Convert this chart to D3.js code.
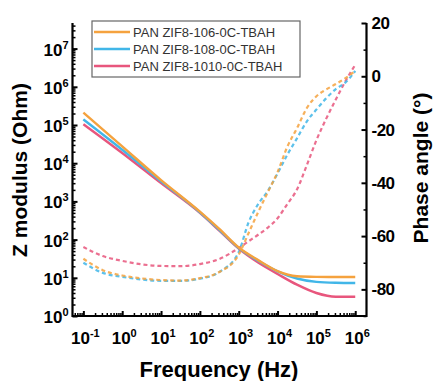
<!DOCTYPE html>
<html>
<head>
<meta charset="utf-8">
<script src="https://cdn.jsdelivr.net/npm/d3@7"></script>
<style>
  html, body { margin: 0; padding: 0; background: #fff; }
  svg { display: block; font-family: "Liberation Sans", Arial, sans-serif; }
</style>
</head>
<body>
<svg id="chart" width="437" height="381"></svg>
<script>
// Series names
const seriesNames = ["PAN ZIF8-106-0C-TBAH", "PAN ZIF8-108-0C-TBAH", "PAN ZIF8-1010-0C-TBAH"];
const seriesColors = ["#F5A23E", "#41B6E8", "#E8567D"];

// Impedance modulus |Z| (Ohm) vs frequency (Hz)
const zFreq = [0.1, 1, 10, 100, 316, 1000, 3162, 10000, 31623, 100000, 316228, 1000000];
const zOrange = [2.1e5, 2.75e4, 3.6e3, 540, 190, 62, 29, 15, 11, 10.6, 10.5, 10.5];
const zBlue   = [1.4e5, 2.25e4, 3.35e3, 520, 180, 60, 28, 14.8, 9.6, 7.8, 7.4, 7.3];
const zRed    = [1.05e5, 1.85e4, 3.0e3, 500, 172, 58, 25, 12.6, 6.6, 4.0, 3.2, 3.2];

// Phase angle (degrees) vs frequency (Hz)
const pFreq = [0.1, 0.316, 1, 3.16, 10, 31.6, 100, 316, 1000, 1778, 3162, 5623, 10000,
               17783, 31623, 56234, 100000, 177828, 316228, 562341, 1000000];
const pOrange = [-68.5, -72.8, -74.8, -75.9, -76.5, -76.7, -75.8, -73.5, -67, -59, -51, -43.5, -36,
                 -26.5, -19.5, -12, -7.5, -5, -2.9, -0.7, 2];
const pBlue   = [-70, -73.8, -75.3, -76.3, -76.8, -76.8, -76, -73.5, -66, -55, -48, -43, -36.5,
                 -29.5, -23.3, -17, -12.5, -8.3, -4.8, -2.3, 2];
const pRed    = [-64.1, -67.5, -69.3, -70.6, -71.2, -71.3, -70.5, -68.6, -64.5, -62, -59.5, -56.8, -53.3,
                 -48, -42.5, -33.5, -24, -16, -8.7, -1.8, 4.3];

// Axis ticks
const xTickExp = [-1, 0, 1, 2, 3, 4, 5, 6];
const yTickExp = [0, 1, 2, 3, 4, 5, 6, 7];
const phaseTicks = [20, 0, -20, -40, -60, -80];

const svg = d3.select("#chart");
const plotLeft = 72.5, plotRight = 366.5, plotTop = 23, plotBottom = 316;

const x = d3.scaleLog().domain([Math.pow(10, -1.28), Math.pow(10, 6.29)]).range([plotLeft, plotRight]);
const yZ = d3.scaleLog().domain([1, Math.pow(10, 7.67)]).range([plotBottom, plotTop]);
const yP = d3.scaleLinear().domain([-90, 20]).range([plotBottom, plotTop]);

const zSeries = [zOrange, zBlue, zRed];
const pSeries = [pOrange, pBlue, pRed];

// Phase curves (dashed)
const phaseLine = d3.line().x(d => x(d[0])).y(d => yP(d[1])).curve(d3.curveMonotoneX);
[2, 1, 0].forEach(i => {
  svg.append("path")
    .datum(pFreq.map((f, k) => [f, pSeries[i][k]]))
    .attr("d", phaseLine)
    .attr("fill", "none")
    .attr("stroke", seriesColors[i])
    .attr("stroke-width", 2.2)
    .attr("stroke-dasharray", "4,3")
    .attr("opacity", 0.85);
});

// Modulus curves (solid)
const zLine = d3.line().x(d => x(d[0])).y(d => yZ(d[1])).curve(d3.curveMonotoneX);
[2, 1, 0].forEach(i => {
  svg.append("path")
    .datum(zFreq.map((f, k) => [f, zSeries[i][k]]))
    .attr("d", zLine)
    .attr("fill", "none")
    .attr("stroke", seriesColors[i])
    .attr("stroke-width", 2.4);
});

// Minor tick values for log axes
function minorLogTicks(lo, hi) {
  const out = [];
  for (let e = lo; e <= hi; e++) for (let m = 2; m <= 9; m++) out.push(m * Math.pow(10, e));
  return out;
}

// Bottom axis (ticks point inward)
const xMinor = minorLogTicks(-2, 6).filter(v => v >= x.domain()[0] && v <= x.domain()[1]);
svg.append("g").attr("transform", `translate(0,${plotBottom})`)
  .call(d3.axisBottom(x).tickValues(xMinor).tickSize(-3).tickFormat(""))
  .call(g => g.select(".domain").remove())
  .selectAll("line").attr("stroke-width", 1.5);
svg.append("g").attr("transform", `translate(0,${plotBottom})`)
  .call(d3.axisBottom(x).tickValues(xTickExp.map(e => Math.pow(10, e))).tickSize(-5).tickFormat(""))
  .call(g => g.select(".domain").remove())
  .selectAll("line").attr("stroke-width", 2);

// Left axis
const yMinor = minorLogTicks(0, 7).filter(v => v <= yZ.domain()[1]);
svg.append("g").attr("transform", `translate(${plotLeft},0)`)
  .call(d3.axisLeft(yZ).tickValues(yMinor).tickSize(-3).tickFormat(""))
  .call(g => g.select(".domain").remove())
  .selectAll("line").attr("stroke-width", 1.5);
svg.append("g").attr("transform", `translate(${plotLeft},0)`)
  .call(d3.axisLeft(yZ).tickValues(yTickExp.map(e => Math.pow(10, e))).tickSize(-5).tickFormat(""))
  .call(g => g.select(".domain").remove())
  .selectAll("line").attr("stroke-width", 2);

// Right axis
svg.append("g").attr("transform", `translate(${plotRight},0)`)
  .call(d3.axisRight(yP).tickValues([10, -10, -30, -50, -70, -90]).tickSize(-3).tickFormat(""))
  .call(g => g.select(".domain").remove())
  .selectAll("line").attr("stroke-width", 1.5);
svg.append("g").attr("transform", `translate(${plotRight},0)`)
  .call(d3.axisRight(yP).tickValues(phaseTicks).tickSize(-5).tickFormat(""))
  .call(g => g.select(".domain").remove())
  .selectAll("line").attr("stroke-width", 2);

// Axis lines
svg.append("path")
  .attr("d", `M${plotLeft},${plotTop}V${plotBottom}H${plotRight}V${plotTop}`)
  .attr("fill", "none").attr("stroke", "#000").attr("stroke-width", 2.2);

// Power-of-ten labels
function powerLabel(sel, exp) {
  sel.append("tspan").text("10");
  sel.append("tspan").attr("dy", -7).attr("font-size", 11).text(exp);
}
xTickExp.forEach(e => {
  const t = svg.append("text")
    .attr("x", x(Math.pow(10, e)) + 2).attr("y", plotBottom + 28)
    .attr("text-anchor", "middle").attr("font-size", 17).attr("font-weight", "bold");
  powerLabel(t, e);
});
yTickExp.forEach(e => {
  const t = svg.append("text")
    .attr("x", plotLeft - 4).attr("y", yZ(Math.pow(10, e)) + 7)
    .attr("text-anchor", "end").attr("font-size", 17).attr("font-weight", "bold");
  powerLabel(t, e);
});
phaseTicks.forEach(v => {
  svg.append("text")
    .attr("x", plotRight + 5).attr("y", yP(v) + 6)
    .attr("font-size", 17).attr("font-weight", "bold")
    .attr("letter-spacing", -0.5)
    .text(String(v));
});

// Axis titles
svg.append("text")
  .attr("transform", `translate(27,170) rotate(-90)`)
  .attr("text-anchor", "middle").attr("font-size", 21).attr("font-weight", "bold")
  .text("Z modulus (Ohm)");
svg.append("text")
  .attr("transform", `translate(428,168) rotate(-90)`)
  .attr("text-anchor", "middle").attr("font-size", 21).attr("font-weight", "bold")
  .text("Phase angle (°)");
svg.append("text")
  .attr("x", 219).attr("y", 377)
  .attr("text-anchor", "middle").attr("font-size", 22).attr("font-weight", "bold")
  .text("Frequency (Hz)");

// Legend
const legend = svg.append("g");
legend.append("rect")
  .attr("x", 92).attr("y", 21).attr("width", 208).attr("height", 56)
  .attr("fill", "#fff").attr("stroke", "#666").attr("stroke-width", 1.2);
seriesNames.forEach((name, i) => {
  const yy = 32 + i * 17;
  legend.append("line")
    .attr("x1", 94).attr("x2", 130).attr("y1", yy).attr("y2", yy)
    .attr("stroke", seriesColors[i]).attr("stroke-width", 2.4);
  legend.append("text")
    .attr("x", 133).attr("y", yy + 4.5)
    .attr("font-size", 13).attr("fill", "#333")
    .text(name);
});
</script>
</body>
</html>
